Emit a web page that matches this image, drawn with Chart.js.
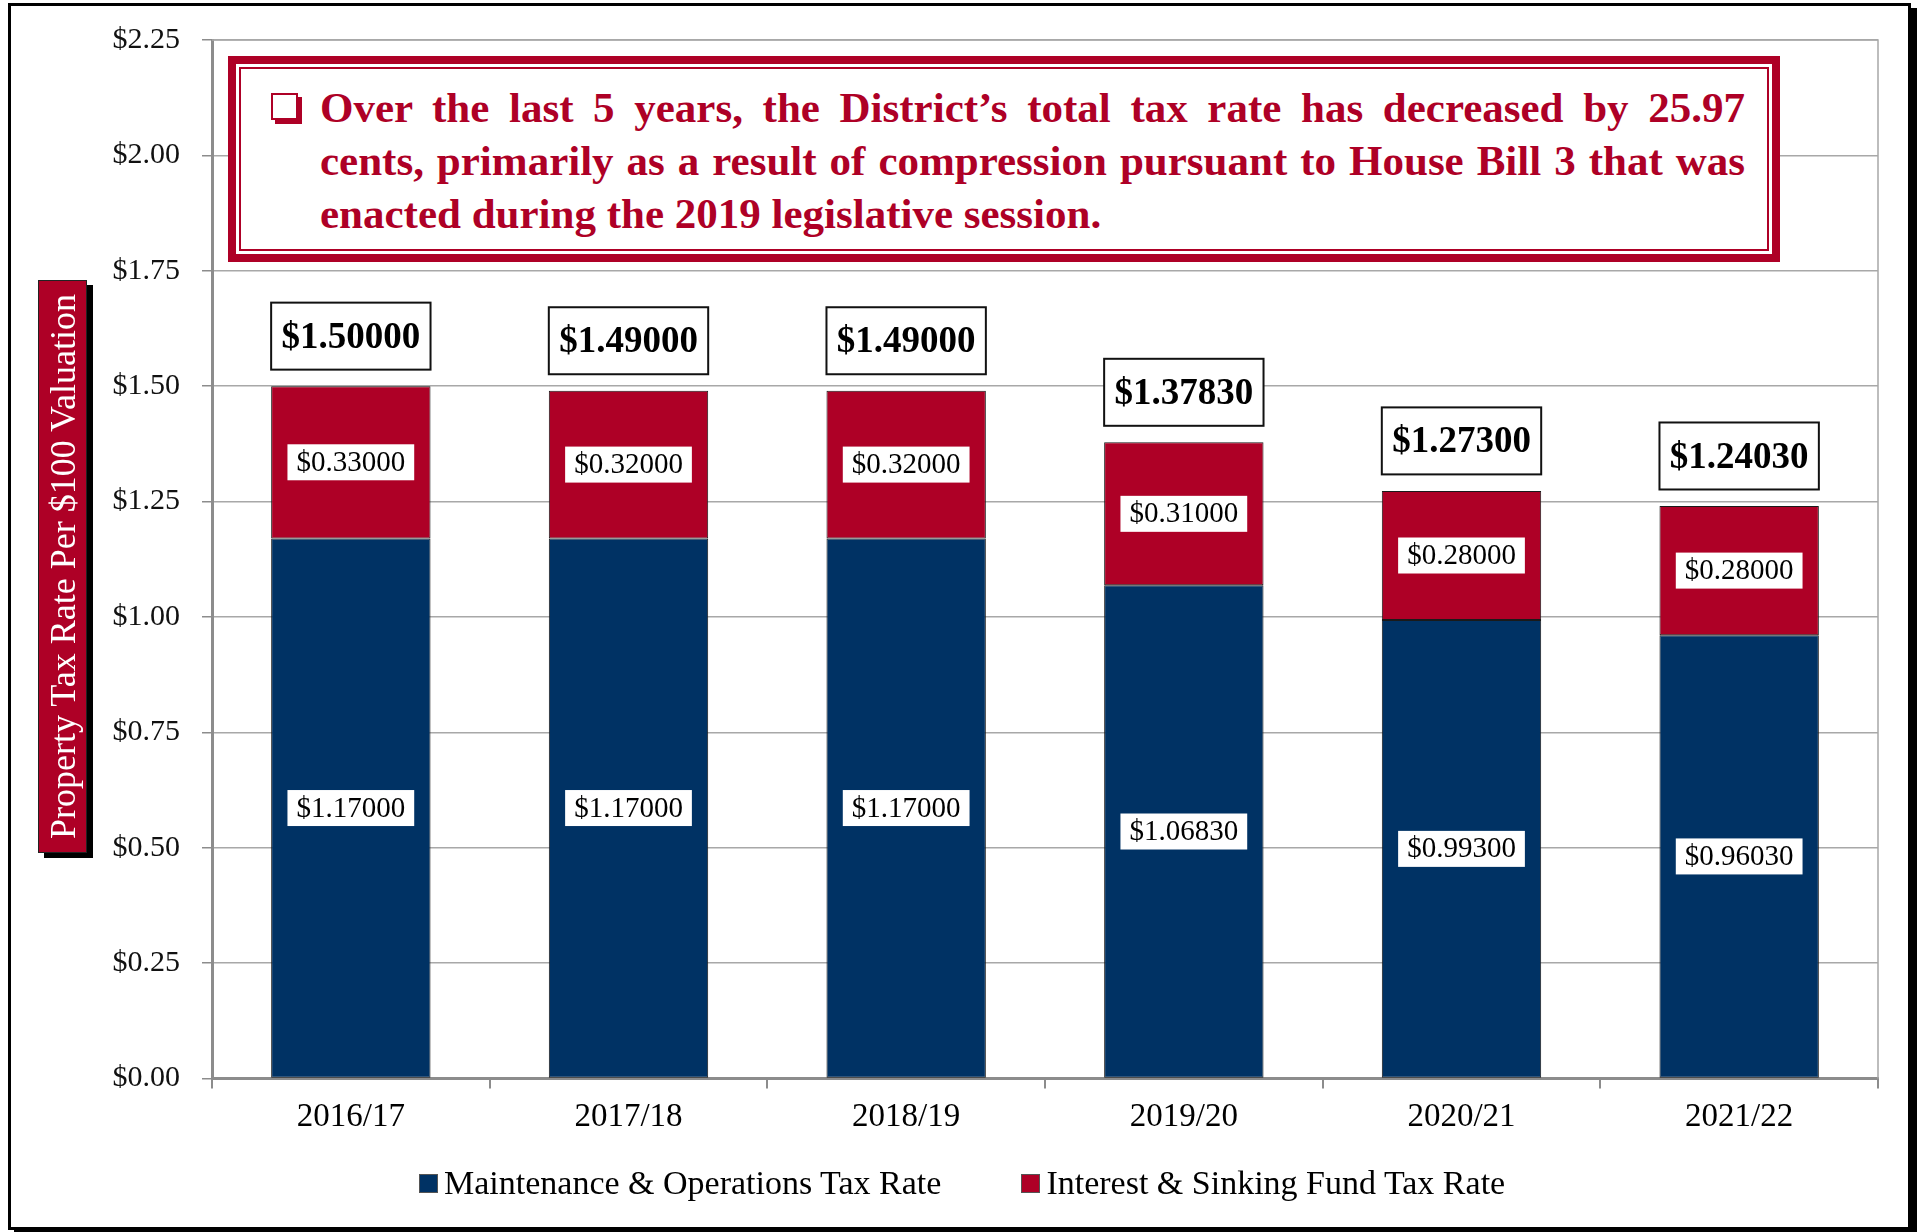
<!DOCTYPE html>
<html>
<head>
<meta charset="utf-8">
<script src="https://cdn.jsdelivr.net/npm/chart.js@4.4.0/dist/chart.umd.min.js"></script>
<style>
	body { margin: 0; background: #fff; font-family: "Liberation Serif", serif; }
	#wrap { position: relative; width: 1917px; height: 1232px; overflow: hidden; }
	#frame { position: absolute; left: 8px; top: 3px; width: 1897px; height: 1221px; border: 3px solid #000; box-shadow: 6px 5px 0 #000; }
	#myChart { position: absolute; left: 0; top: 0; }
	#note { position: absolute; left: 228px; top: 56px; width: 1552px; height: 206px; box-sizing: border-box; border: 8px solid #AE0026; background: #fff; }
	#note .inner { position: absolute; left: 3px; top: 3px; right: 3px; bottom: 3px; border: 2px solid #AE0026; }
	#note .bullet { position: absolute; left: 35px; top: 29px; width: 23px; height: 23px; border: 2px solid #AE0026; box-shadow: 4px 4px 0 #AE0026; background: #fff; }
	#note .txt { position: absolute; left: 84px; top: 17px; width: 1425px; color: #AE0026; font-weight: bold; font-size: 43px; line-height: 53px; white-space: nowrap; }
	#note .txt div.j { text-align: justify; text-align-last: justify; white-space: normal; }
	#ytitle { position: absolute; left: 38px; top: 280px; width: 47px; height: 571px; background: #AE0026; border: 1px solid #222; box-shadow: 6px 5px 0 #000; display: flex; align-items: center; justify-content: center; }
	#ytitle span { writing-mode: vertical-rl; transform: rotate(180deg); color: #fff; font-size: 36px; white-space: nowrap; }
	#legend { position: absolute; left: 419px; top: 1160px; display: flex; gap: 80px; font-size: 34px; line-height: 46px; color: #000; }
	#legend .item { display: flex; align-items: center; }
	#legend .box { width: 17px; height: 17px; border: 1px solid #555; margin-right: 6px; }
</style>
</head>
<body>
<div id="wrap">
	<div id="frame"></div>
	<canvas id="myChart" width="1917" height="1232"></canvas>
	<div id="note">
		<div class="inner"></div>
		<div class="bullet"></div>
		<div class="txt">
			<div class="j">Over the last 5 years, the District’s total tax rate has decreased by 25.97</div>
			<div class="j">cents, primarily as a result of compression pursuant to House Bill 3 that was</div>
			<div>enacted during the 2019 legislative session.</div>
		</div>
	</div>
	<div id="ytitle"><span>Property Tax Rate Per $100 Valuation</span></div>
	<div id="legend"></div>
</div>
<script>
// data

var years = ['2016/17', '2017/18', '2018/19', '2019/20', '2020/21', '2021/22'];
var mAndO = [1.17, 1.17, 1.17, 1.0683, 0.993, 0.9603];
var iAndS = [0.33, 0.32, 0.32, 0.31, 0.28, 0.28];
var seriesNames = ['Maintenance & Operations Tax Rate', 'Interest & Sinking Fund Tax Rate'];
var yMax = 2.25;
var yStep = 0.25;

var navy = '#003264';
var red = '#AE0026';
var serif = '"Liberation Serif", serif';

// value boxes on the bars

var boxLabels = {
	id: 'boxLabels',
	beforeDatasetsDraw: function (chart) {
		var a = chart.chartArea, ctx = chart.ctx;
		ctx.save();
		ctx.strokeStyle = '#a8a8a8';
		ctx.lineWidth = 1.5;
		ctx.beginPath();
		ctx.moveTo(a.left, a.top);
		ctx.lineTo(a.right, a.top);
		ctx.lineTo(a.right, a.bottom);
		ctx.stroke();
		ctx.restore();
	},
	afterDatasetsDraw: function (chart) {
		var ctx = chart.ctx;
		ctx.save();
		ctx.textAlign = 'center';
		ctx.textBaseline = 'middle';
		ctx.font = '29px ' + serif;
		chart.data.datasets.forEach(function (ds, i) {
			chart.getDatasetMeta(i).data.forEach(function (bar, j) {
				var cy = (bar.y + bar.base) / 2;
				var txt = '$' + ds.data[j].toFixed(5);
				var w = ctx.measureText(txt).width + 18;
				ctx.fillStyle = '#fff';
				ctx.fillRect(bar.x - w / 2, cy - 18, w, 36);
				ctx.fillStyle = '#000';
				ctx.fillText(txt, bar.x, cy + 1);
			});
		});
		// totals above the stacks
		var last = chart.getDatasetMeta(chart.data.datasets.length - 1).data;
		ctx.font = 'bold 37px ' + serif;
		last.forEach(function (bar, j) {
			var total = 0;
			chart.data.datasets.forEach(function (ds) { total += ds.data[j]; });
			var txt = '$' + total.toFixed(5);
			var w = bar.width, h = 67;
			var cy = bar.y - 50;
			ctx.fillStyle = '#fff';
			ctx.fillRect(bar.x - w / 2, cy - h / 2, w, h);
			ctx.strokeStyle = '#111';
			ctx.lineWidth = 2;
			ctx.strokeRect(bar.x - w / 2, cy - h / 2, w, h);
			ctx.fillStyle = '#000';
			ctx.fillText(txt, bar.x, cy + 2);
		});
		ctx.restore();
	}
};

var ctx = document.getElementById('myChart').getContext('2d');
var chart = new Chart(ctx, {
	type: 'bar',
	data: {
		labels: years,
		datasets: [{
			label: seriesNames[0],
			data: mAndO,
			backgroundColor: navy,
			borderColor: '#1a1a1a',
			borderWidth: 1,
			borderSkipped: false,
			categoryPercentage: 1,
			barPercentage: 0.574
		},
		{
			label: seriesNames[1],
			data: iAndS,
			backgroundColor: red,
			borderColor: '#1a1a1a',
			borderWidth: 1,
			borderSkipped: false,
			categoryPercentage: 1,
			barPercentage: 0.574
		}]
	},
	options: {
		responsive: false,
		animation: false,
		devicePixelRatio: 1,
		layout: { padding: { left: 38, right: 39, top: 22, bottom: 86 } },
		plugins: {
			legend: { display: false },
			tooltip: { enabled: false }
		},
		scales: {
			x: {
				stacked: true,
				grid: { offset: true, drawOnChartArea: false, color: '#8c8c8c', lineWidth: 2, tickLength: 10 },
				border: { color: '#8c8c8c', width: 3 },
				ticks: { color: '#000', padding: 9, font: { family: serif, size: 33 } }
			},
			y: {
				stacked: true,
				min: 0,
				max: yMax,
				afterFit: function (scale) { scale.width = 174 },
				grid: { color: '#a8a8a8', lineWidth: 1.5, tickLength: 10, tickColor: '#8c8c8c' },
				border: { color: '#8c8c8c', width: 3 },
				ticks: {
					stepSize: yStep,
					padding: 22,
					color: '#111',
					font: { family: serif, size: 30 },
					callback: function (v) { return '$' + v.toFixed(2) }
				}
			}
		}
	},
	plugins: [boxLabels]
});

// legend built from the datasets

var legend = document.getElementById('legend');
chart.data.datasets.forEach(function (ds) {
	var item = document.createElement('div');
	item.className = 'item';
	var box = document.createElement('span');
	box.className = 'box';
	box.style.background = ds.backgroundColor;
	var txt = document.createElement('span');
	txt.textContent = ds.label;
	item.appendChild(box);
	item.appendChild(txt);
	legend.appendChild(item);
});
</script>
</body>
</html>
